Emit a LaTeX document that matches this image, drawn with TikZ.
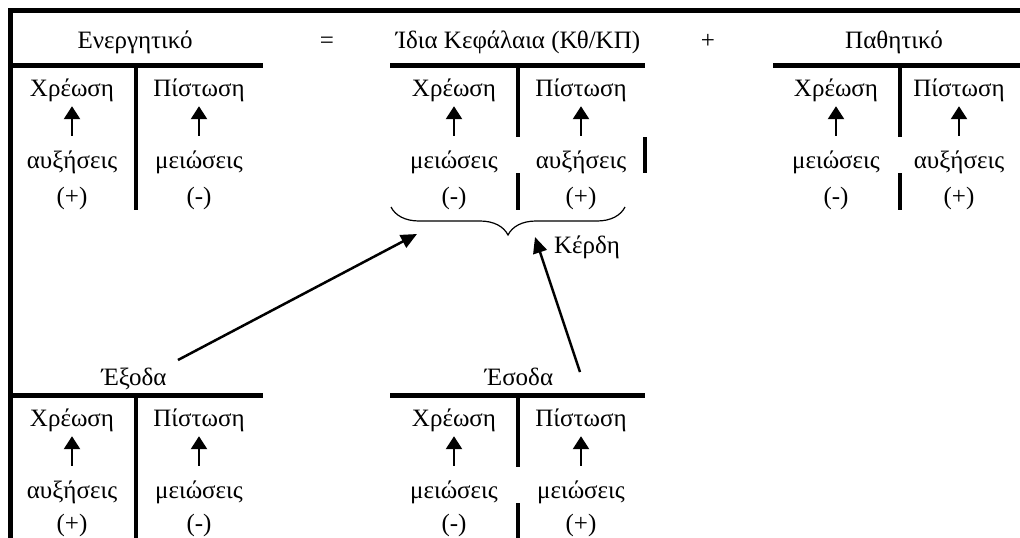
\documentclass[tikz,border=0pt]{standalone}
\usepackage{fontspec}
\setmainfont{Liberation Serif}
\usetikzlibrary{arrows.meta,decorations.pathreplacing}
\begin{document}
\begin{tikzpicture}[x=1pt,y=-1pt,
  txt/.style={inner sep=0pt, font=\fontsize{25}{30}\selectfont, anchor=base, text height=18pt, text depth=6pt},
  frame/.style={line width=5pt},
  tline/.style={line width=5pt},
  divider/.style={line width=4pt},
  uparr/.style={line width=2.5pt, -{Triangle[width=16pt,length=13pt]}, shorten >=4pt, shorten <=14pt},
  longarr/.style={line width=2.5pt, -{Triangle[width=14pt,length=16pt]}},
  bracestyle/.style={line width=1.2pt, decorate, decoration={brace, amplitude=28pt}}
]
\useasboundingbox (0,0) rectangle (1020,538);
% outer frame
\draw[frame] (10,10) -- (1020,10);
\draw[frame] (10,8) -- (10,538);

% ---------- top row headers ----------
\node[txt] (hEn) at (135,48) {Ενεργητικό};
\node[txt] (eq) at (327,48) {=};
\node[txt] (hId) at (518,48) {Ίδια Κεφάλαια (Κθ/ΚΠ)};
\node[txt] (plus) at (708,48) {+};
\node[txt] (hPa) at (894,48) {Παθητικό};

% ---------- Ενεργητικό ----------
\draw[tline] (10,65) -- (263,65);
\draw[divider] (136,65) -- (136,210);
\node[txt] (enD) at (72,96) {Χρέωση};
\node[txt] (enC) at (199,96) {Πίστωση};
\node[txt] (enDw) at (72,168) {αυξήσεις};
\node[txt] (enCw) at (199,168) {μειώσεις};
\node[txt] (enDs) at (72,204) {(+)};
\node[txt] (enCs) at (199,204) {(-)};
\draw[uparr] (enDw.north) -- (enD.south);
\draw[uparr] (enCw.north) -- (enC.south);

% ---------- Ίδια Κεφάλαια ----------
\draw[tline] (390,65) -- (645,65);
\draw[divider] (518,65) -- (518,137);
\draw[divider] (518,173) -- (518,210);
\draw[divider] (645,137) -- (645,173);
\node[txt] (idD) at (454,96) {Χρέωση};
\node[txt] (idC) at (581,96) {Πίστωση};
\node[txt] (idDw) at (454,168) {μειώσεις};
\node[txt] (idCw) at (581,168) {αυξήσεις};
\node[txt] (idDs) at (454,204) {(-)};
\node[txt] (idCs) at (581,204) {(+)};
\draw[uparr] (idDw.north) -- (idD.south);
\draw[uparr] (idCw.north) -- (idC.south);
\coordinate (brR) at (625,207);
\coordinate (brL) at (391,207);
\draw[bracestyle] (brR) -- (brL);
\node[txt] (kerdi) at (587,253) {Κέρδη};

% ---------- Παθητικό ----------
\draw[tline] (773,65) -- (1020,65);
\draw[divider] (900,65) -- (900,137);
\draw[divider] (900,173) -- (900,210);
\node[txt] (paD) at (836,96) {Χρέωση};
\node[txt] (paC) at (959,96) {Πίστωση};
\node[txt] (paDw) at (836,168) {μειώσεις};
\node[txt] (paCw) at (959,168) {αυξήσεις};
\node[txt] (paDs) at (836,204) {(-)};
\node[txt] (paCs) at (959,204) {(+)};
\draw[uparr] (paDw.north) -- (paD.south);
\draw[uparr] (paCw.north) -- (paC.south);

% ---------- Έξοδα ----------
\node[txt] (hEx) at (134,385) {Έξοδα};
\draw[tline] (10,395) -- (263,395);
\draw[divider] (136,395) -- (136,538);
\node[txt] (exD) at (72,426) {Χρέωση};
\node[txt] (exC) at (199,426) {Πίστωση};
\node[txt] (exDw) at (72,498) {αυξήσεις};
\node[txt] (exCw) at (199,498) {μειώσεις};
\node[txt] (exDs) at (72,531) {(+)};
\node[txt] (exCs) at (199,531) {(-)};
\draw[uparr] (exDw.north) -- (exD.south);
\draw[uparr] (exCw.north) -- (exC.south);

% ---------- Έσοδα ----------
\node[txt] (hEs) at (519,385) {Έσοδα};
\draw[tline] (390,395) -- (645,395);
\draw[divider] (518,395) -- (518,467);
\draw[divider] (518,503) -- (518,538);
\node[txt] (esD) at (454,426) {Χρέωση};
\node[txt] (esC) at (581,426) {Πίστωση};
\node[txt] (esDw) at (454,498) {μειώσεις};
\node[txt] (esCw) at (581,498) {μειώσεις};
\node[txt] (esDs) at (454,531) {(-)};
\node[txt] (esCs) at (581,531) {(+)};
\draw[uparr] (esDw.north) -- (esD.south);
\draw[uparr] (esCw.north) -- (esC.south);

% ---------- long arrows ----------
\coordinate (exTail) at (178,360);
\coordinate (exTip) at (417,234);
\coordinate (esTail) at (580,372);
\coordinate (esTip) at (535,237);
\draw[longarr] (exTail) -- (exTip);
\draw[longarr] (esTail) -- (esTip);
\end{tikzpicture}
\end{document}
